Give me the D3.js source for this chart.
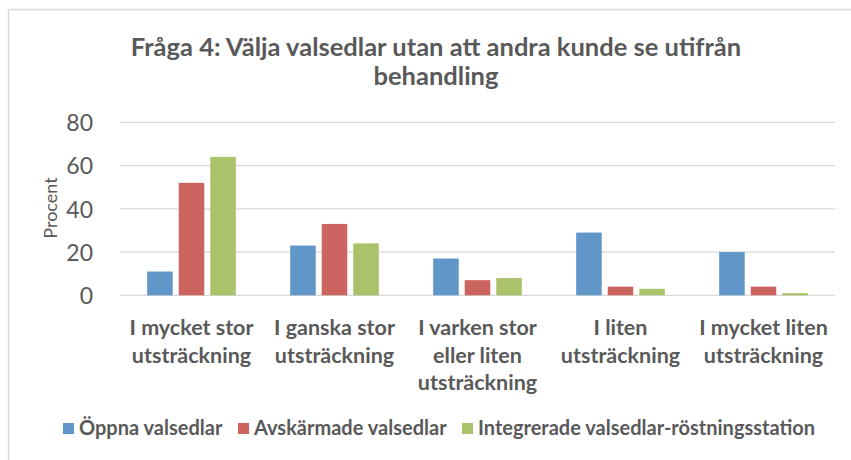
<!DOCTYPE html>
<html>
<head>
<meta charset="utf-8">
<script src="https://cdn.jsdelivr.net/npm/d3@7"></script>
<style>
  body { margin: 0; background: #fff; }
  svg { display: block; font-family: Lato, "Open Sans", sans-serif; }
</style>
</head>
<body>
<svg id="chart" width="851" height="460"></svg>
<script>
'use strict';
// chart data
const categories = [
  ["I mycket stor", "utsträckning"],
  ["I ganska stor", "utsträckning"],
  ["I varken stor", "eller liten", "utsträckning"],
  ["I liten", "utsträckning"],
  ["I mycket liten", "utsträckning"]
];
const seriesNames = ["Öppna valsedlar", "Avskärmade valsedlar", "Integrerade valsedlar-röstningsstation"];
const oppna = [11, 23, 17, 29, 20];
const avskarmade = [52, 33, 7, 4, 4];
const integrerade = [64, 24, 8, 3, 1];
const yTicks = [0, 20, 40, 60, 80];
const titleLines = ["Fråga 4: Välja valsedlar utan att andra kunde se utifrån", "behandling"];

const colors = ["#6196c8", "#cc6560", "#aac36a"];
const series = [oppna, avskarmade, integrerade];
const textColor = "#595959";

const svg = d3.select("#chart");

// outer frame
svg.append("rect")
  .attr("x", 8.5).attr("y", 9.5)
  .attr("width", 860).attr("height", 470)
  .attr("fill", "none")
  .attr("stroke", "#d9d9d9")
  .attr("stroke-width", 1.5);

// title
svg.append("g")
  .selectAll("text").data(titleLines).join("text")
  .attr("x", 436)
  .attr("y", (d, i) => 56 + i * 29)
  .attr("text-anchor", "middle")
  .attr("font-size", 25.5)
  .attr("font-weight", "bold")
  .attr("fill", textColor)
  .text(d => d);

// scales
const x0 = d3.scaleBand()
  .domain(d3.range(categories.length))
  .range([120, 835])
  .paddingInner(0.38)
  .paddingOuter(0.19);

const x1 = d3.scaleBand()
  .domain(d3.range(series.length))
  .range([0, x0.bandwidth()])
  .paddingInner(0.19);

const y = d3.scaleLinear()
  .domain([0, 80])
  .range([295.3, 122.3]);

// gridlines
svg.append("g")
  .selectAll("line").data(yTicks).join("line")
  .attr("x1", 120).attr("x2", 835)
  .attr("y1", d => y(d)).attr("y2", d => y(d))
  .attr("stroke", "#d9d9d9")
  .attr("stroke-width", 1.3);

// y axis labels
const yAxis = svg.append("g")
  .attr("transform", "translate(93,0)")
  .call(d3.axisLeft(y).tickValues(yTicks).tickSize(0).tickPadding(0));
yAxis.select(".domain").remove();
yAxis.selectAll("text")
  .attr("font-family", "Lato, sans-serif")
  .attr("font-size", 23)
  .attr("fill", textColor)
  .attr("dy", "0.36em");

svg.append("text")
  .attr("transform", "translate(57,208) rotate(-90)")
  .attr("text-anchor", "middle")
  .attr("font-size", 18)
  .attr("fill", textColor)
  .text("Procent");

// bars
const groups = svg.append("g")
  .selectAll("g").data(categories).join("g")
  .attr("transform", (d, i) => `translate(${x0(i)},0)`);

groups.selectAll("rect")
  .data((d, i) => series.map((s, k) => ({ k: k, v: s[i] })))
  .join("rect")
  .attr("x", d => x1(d.k))
  .attr("width", x1.bandwidth())
  .attr("y", d => y(d.v))
  .attr("height", d => y(0) - y(d.v))
  .attr("fill", d => colors[d.k]);

// category labels
groups.append("text")
  .attr("text-anchor", "middle")
  .attr("font-size", 21.5)
  .attr("font-weight", "bold")
  .attr("fill", textColor)
  .selectAll("tspan").data(d => d).join("tspan")
  .attr("x", x0.bandwidth() / 2)
  .attr("y", (d, i) => 335 + i * 27.5)
  .text(d => d);

// legend
const legendX = [63, 238, 462];
const legend = svg.append("g")
  .selectAll("g").data(seriesNames).join("g")
  .attr("transform", (d, i) => `translate(${legendX[i]},423)`);

legend.append("rect")
  .attr("width", 11).attr("height", 11)
  .attr("fill", (d, i) => colors[i]);

legend.append("text")
  .attr("x", 16)
  .attr("y", 12)
  .attr("font-size", 20)
  .attr("font-weight", "bold")
  .attr("fill", textColor)
  .text(d => d);
</script>
</body>
</html>
